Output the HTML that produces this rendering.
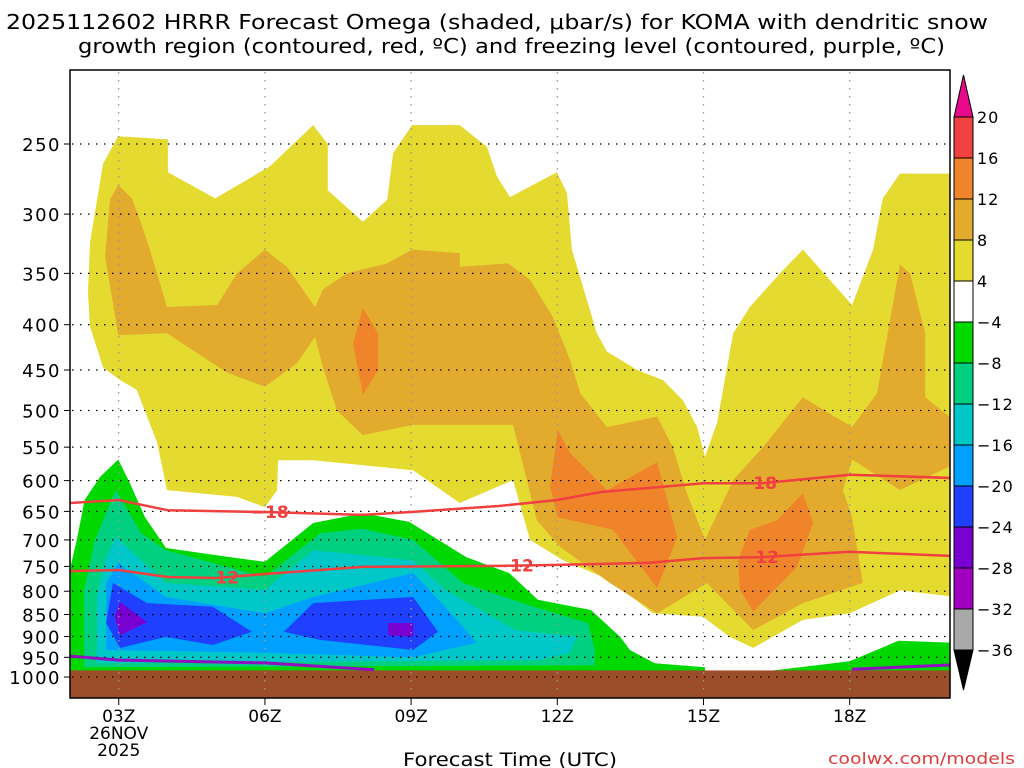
<!DOCTYPE html>
<html><head><meta charset="utf-8"><style>
html,body{margin:0;padding:0;background:#fff;}
svg{display:block;font-family:"DejaVu Sans","Liberation Sans",sans-serif;}
</style></head><body>
<svg id="chart" width="1024" height="768" viewBox="0 0 1024 768" xmlns="http://www.w3.org/2000/svg">
<text x="6" y="29" font-size="20" textLength="982" lengthAdjust="spacingAndGlyphs">2025112602 HRRR Forecast Omega (shaded, μbar/s) for KOMA with dendritic snow</text>
<text x="78" y="53" font-size="20" textLength="867" lengthAdjust="spacingAndGlyphs">growth region (contoured, red, ºC) and freezing level (contoured, purple, ºC)</text>
<defs><clipPath id="plotclip"><rect x="70" y="70" width="880" height="628"/></clipPath></defs>
<g id="fills" clip-path="url(#plotclip)"></g>
<g id="grid"></g>
<g id="lines" clip-path="url(#plotclip)"></g>
<rect x="70" y="70" width="880" height="628" fill="none" stroke="#000" stroke-width="1.5"/>
<g id="yaxis"></g>
<g id="xaxis"></g>
<text x="403" y="766" font-size="19" textLength="214" lengthAdjust="spacingAndGlyphs">Forecast Time (UTC)</text>
<text x="828" y="764" font-size="16" textLength="187" lengthAdjust="spacingAndGlyphs" fill="#e03c3c">coolwx.com/models</text>
<g id="cbar"></g>
</svg>
<script>
const NS="http://www.w3.org/2000/svg";
// ---- data ----
const yTicks=[250,300,350,400,450,500,550,600,650,700,750,800,850,900,950,1000];
const xTicks=[3,6,9,12,15,18];
const xTickLabels=["03Z","06Z","09Z","12Z","15Z","18Z"];
const cbLevels=[20,16,12,8,4,-4,-8,-12,-16,-20,-24,-28,-32,-36];
const cbColors=["#f04040","#f0842a","#e3ab2e","#e4da30","#ffffff","#00d800","#00d080","#00c8c8","#00a0ff","#2040ff","#7800d0","#a000c0","#a8a8a8"];
const yellowBand=[[2.37,368],[2.41,323],[2.68,263],[2.99,245],[4.01,247],[4.01,269],[4.98,288],[6.1,265],[6.99,238],[7.29,250],[7.29,282],[8.01,306],[8.51,289],[8.63,256],[9.02,238],[10,238],[10.56,252],[10.76,272],[11.03,287],[11.99,269],[12.2,284],[12.3,329],[12.81,409],[13.02,429],[13.64,450],[14.17,462],[14.58,487],[14.87,522],[15.03,564],[15.28,516],[15.61,409],[15.95,382],[16.57,350],[17.04,329],[18.05,380],[18.48,329],[18.68,288],[19.03,270],[20.2,270],[20.2,812],[19.03,798],[18,847],[17.04,862],[16.02,927],[15.54,901],[14.99,855],[13.96,847],[13.08,777],[12.12,738],[11.44,700],[11.09,599],[10,636],[9.04,584],[6.99,569],[6.27,569],[6.25,615],[6,643],[5.43,626],[3.99,615],[3.79,544],[3.37,474],[3.03,462],[2.68,447],[2.41,402]];
const orangeBand=[[2.99,278],[3.27,288],[3.44,305],[3.64,329],[3.99,382],[5.02,380],[5.43,350],[6,329],[6.45,344],[7.03,382],[7.19,365],[7.68,350],[8.51,341],[9.02,329],[10,332],[10,344],[10.99,341],[11.44,356],[11.91,392],[12.26,438],[12.47,478],[13.02,522],[14.05,508],[14.37,550],[14.66,620],[15.03,700],[15.61,599],[16.22,550],[17.04,483],[18.05,522],[18.56,478],[18.83,395],[19.03,342],[19.24,350],[19.55,409],[19.55,483],[20.2,516],[20.2,573],[19.03,615],[18.05,568],[17.86,615],[18.05,660],[18.27,783],[17.04,825],[16.02,885],[15.07,783],[14.05,847],[13.08,783],[12.06,713],[11.58,665],[11.09,519],[9.04,519],[8.01,533],[7.48,500],[7.19,447],[7.03,413],[6.66,442],[6,470],[5.22,453],[3.99,409],[2.99,411],[2.72,335],[2.82,289]];
const darkOrange1=[[8.01,383],[8.32,409],[8.32,450],[8.01,480],[7.81,420]];
const darkOrange2=[[12.01,526],[12.26,558],[13.02,615],[14.05,572],[14.46,695],[14.05,793],[13.14,682],[12.01,660],[11.85,610]];
const darkOrange3=[[17.04,620],[17.25,670],[16.92,751],[16.02,844],[15.75,797],[15.71,738],[15.95,682],[16.51,665]];
const greenBand=[[1.9,1060],[1.9,797],[2.14,700],[2.3,631],[2.62,594],[2.99,568],[3.23,604],[3.54,660],[3.97,715],[5.28,732],[6,741],[6.99,670],[8.01,653],[8.96,668],[10.13,732],[11.01,763],[11.6,818],[12.69,840],[13.29,901],[13.49,932],[14,965],[15.03,975],[15.03,1060]];
const greenBand2=[[16.3,985],[18,960],[19,910],[20.2,915],[20.2,1060],[16.3,1060]];
const tealBand=[[2.29,975],[2.29,797],[2.51,700],[2.94,615],[3.46,688],[3.97,719],[6,771],[7.13,688],[8.01,680],[9.04,700],[10.07,783],[11.52,833],[12.63,869],[12.77,932],[12.77,970]];
const cyanBand=[[2.55,965],[2.55,812],[2.72,738],[2.94,695],[3.97,783],[6,797],[6.99,719],[9.04,738],[9.7,797],[11.15,885],[12.4,901],[12.26,939],[11.65,957]];
const blueBand=[[2.74,932],[2.74,783],[2.99,743],[3.97,812],[6,847],[6.99,812],[9.04,763],[9.7,833],[10.35,915],[9.04,950],[6,939]];
const darkBlue1=[[2.88,783],[3.58,825],[4.93,833],[5.73,889],[4.93,920],[3.97,901],[3.03,927],[2.74,869]];
const darkBlue2=[[6.39,889],[6.99,825],[9.04,812],[9.55,889],[9.04,932],[7.13,908]];
const purple1=[[3.03,823],[3.58,867],[3.03,897],[2.92,855]];
const purple2=[[8.53,869],[9.04,869],[9.04,901],[8.53,897]];
const dgzMinus18Hours=[2,3,4,6,8,9,10.8,12,12.9,15,16.2,18,20.1];
const dgzMinus18Press=[636,631,648,651,656,651,641,631,618,604,604,591,596];
const dgzMinus12Hours=[2,3,4,5,6,8,10.8,12,13.9,15,16.2,18,20.1];
const dgzMinus12Press=[759,757,771,773,765,751,749,747,743,734,732,722,730];
const frzHoursA=[2,3,6,8.24];
const frzPressA=[947,957,964,981];
const frzHoursB=[18.05,20.1];
const frzPressB=[980,969];
const groundPress=983;
// ---- scales ----
function xS(h){return 70+(h-2)*48.73;}
function yS(p){return 144+384.5*Math.log(p/250);}
function mk(tag,attrs,parent){const e=document.createElementNS(NS,tag);for(const k in attrs)e.setAttribute(k,attrs[k]);parent.appendChild(e);return e;}
const fills=document.getElementById('fills');
function poly(pts,color,name){
  const e=mk('polygon',{points:pts.map(q=>xS(q[0]).toFixed(1)+','+yS(q[1]).toFixed(1)).join(' '),fill:color},fills);
  
  
}
poly(yellowBand,"#e4da30","omega-4-8-region");
poly(orangeBand,"#e3ab2e","omega-8-12-region");
poly(darkOrange1,"#f0842a","omega-12-16-region-a");
poly(darkOrange2,"#f0842a","omega-12-16-region-b");
poly(darkOrange3,"#f0842a","omega-12-16-region-c");
poly(greenBand,"#00d800","omega-minus4-region");
poly(greenBand2,"#00d800","omega-minus4-region-right");
poly(tealBand,"#00d080","omega-minus8-region");
poly(cyanBand,"#00c8c8","omega-minus12-region");
poly(blueBand,"#00a0ff","omega-minus16-region");
poly(darkBlue1,"#2040ff","omega-minus20-region-a");
poly(darkBlue2,"#2040ff","omega-minus20-region-b");
poly(purple1,"#7800d0","omega-minus24-region-a");
poly(purple2,"#7800d0","omega-minus24-region-b");
const g=mk('rect',{x:70,y:yS(groundPress),width:880,height:698-yS(groundPress),fill:"#9c4e2a"},fills);


// ---- grid ----
const grid=document.getElementById('grid');
yTicks.forEach(p=>{const l=mk('line',{x1:72,x2:948,y1:yS(p),y2:yS(p),stroke:"#000","stroke-width":1.3,"stroke-dasharray":"1.5,6.5"},grid);
  
  });
xTicks.forEach(h=>{const l=mk('line',{x1:xS(h),x2:xS(h),y1:72,y2:696,stroke:"#999","stroke-width":1.3,"stroke-dasharray":"1.5,6.5"},grid);
  
  });
// ---- lines ----
const lines=document.getElementById('lines');
function pl(hs,ps,color,w,name){
  const e=mk('polyline',{points:hs.map((h,i)=>xS(h).toFixed(1)+','+yS(ps[i]).toFixed(1)).join(' '),fill:"none",stroke:color,"stroke-width":w,"stroke-linejoin":"round"},lines);
  
  
}
pl(dgzMinus18Hours,dgzMinus18Press,"#f04040",2.5,"minus18-contour");
pl(dgzMinus12Hours,dgzMinus12Press,"#f04040",2.5,"minus12-contour");
pl(frzHoursA,frzPressA,"#9010c0",3,"freezing-level-left");
pl(frzHoursB,frzPressB,"#9010c0",3,"freezing-level-right");
function interpP(hs,ps,h){for(let i=0;i<hs.length-1;i++){if(h>=hs[i]&&h<=hs[i+1]){const t=(h-hs[i])/(hs[i+1]-hs[i]);return ps[i]+t*(ps[i+1]-ps[i]);}}return ps[0];}
function clabel(h,hs,ps,txt){
  const y=yS(interpP(hs,ps,h));
  const t=mk('text',{x:xS(h),y:y+6,"font-size":17,"font-weight":"bold",fill:"#f04040","text-anchor":"middle"},lines);
  t.textContent=txt;
  
  
}
clabel(6.1,dgzMinus18Hours,dgzMinus18Press,"−18");
clabel(16.12,dgzMinus18Hours,dgzMinus18Press,"−18");
clabel(5.08,dgzMinus12Hours,dgzMinus12Press,"−12");
clabel(11.13,dgzMinus12Hours,dgzMinus12Press,"−12");
clabel(16.16,dgzMinus12Hours,dgzMinus12Press,"−12");
// ---- axes ----
const ya=document.getElementById('yaxis');
yTicks.forEach(p=>{const t=mk('text',{x:61,y:yS(p)+7,"font-size":18,"letter-spacing":"1.5","text-anchor":"end"},ya);t.textContent=p;
  
  
  const k=mk('line',{x1:64,x2:70,y1:yS(p),y2:yS(p),stroke:"#000"},ya);
  
  });
const xa=document.getElementById('xaxis');
xTicks.forEach((h,i)=>{const t=mk('text',{x:xS(h),y:722,"font-size":17,"text-anchor":"middle"},xa);t.textContent=xTickLabels[i];
  
  
  const k=mk('line',{x1:xS(h),x2:xS(h),y1:698,y2:705,stroke:"#000"},xa);
  
  });
const d1=mk('text',{x:xS(3),y:739,"font-size":17,"text-anchor":"middle"},xa);d1.textContent="26NOV";


const d2=mk('text',{x:xS(3),y:756,"font-size":17,"text-anchor":"middle"},xa);d2.textContent="2025";


// ---- colorbar ----
const cb=document.getElementById('cbar');
const cbTop=117,cbStep=41,cbX=954,cbW=19;
cbColors.forEach((c,i)=>{const r=mk('rect',{x:cbX,y:cbTop+i*cbStep,width:cbW,height:cbStep,fill:c,stroke:"#000","stroke-width":1},cb);
  
  });
const tt=mk('polygon',{points:`${cbX},${cbTop} ${cbX+cbW/2},75 ${cbX+cbW},${cbTop}`,fill:"#e8088a",stroke:"#000"},cb);


const bot=cbTop+cbColors.length*cbStep;
const tb=mk('polygon',{points:`${cbX},${bot} ${cbX+cbW/2},690 ${cbX+cbW},${bot}`,fill:"#000",stroke:"#000"},cb);


cbLevels.forEach((v,i)=>{const t=mk('text',{x:977,y:cbTop+i*cbStep+6,"font-size":16,"letter-spacing":"1"},cb);t.textContent=v<0?"−"+(-v):String(v);
  
  });
</script>
</body></html>
